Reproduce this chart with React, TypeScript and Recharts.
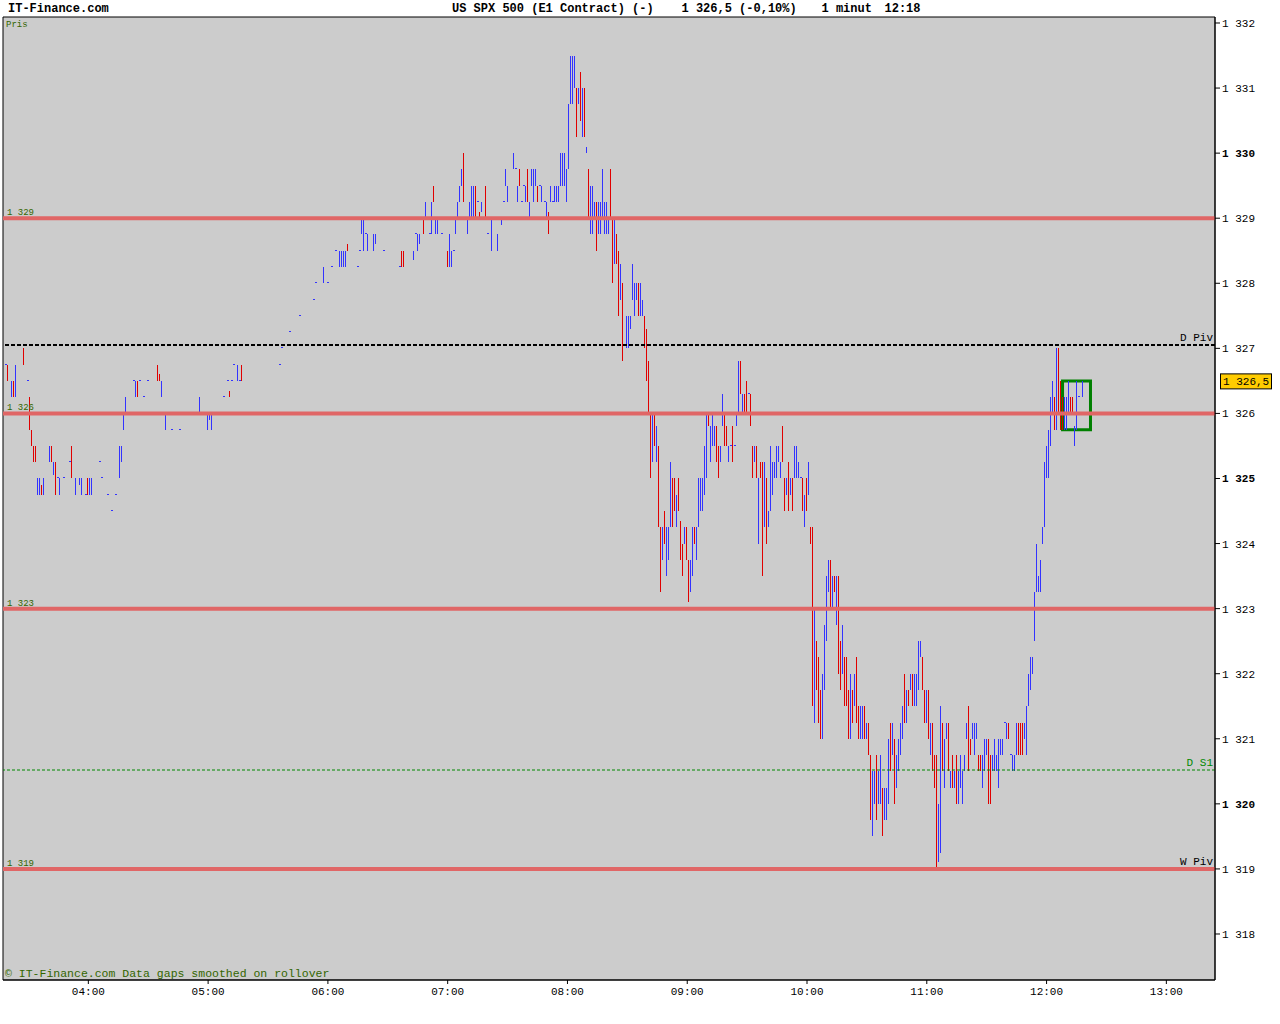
import {
  ComposedChart,
  Bar,
  XAxis,
  YAxis,
  CartesianGrid,
  ReferenceLine,
  ReferenceArea,
} from "recharts";

// ---------------------------------------------------------------------------
// Data: 1-minute bars, [minute of hour, low, high, direction (1 up / -1 down)]
// ---------------------------------------------------------------------------

const h03 = [
  [19, 1326.75, 1326.75, 1], [20, 1326.5, 1326.75, -1], [22, 1326.25, 1326.5, 1],
  [23, 1326.25, 1326.5, -1], [24, 1326.25, 1326.75, 1], [28, 1326.75, 1327, -1],
  [30, 1326.5, 1326.5, 1], [31, 1325.75, 1326.25, -1], [32, 1325.5, 1325.75, -1],
  [33, 1325.25, 1325.5, -1], [34, 1325.25, 1325.5, -1], [35, 1324.75, 1325, 1],
  [36, 1324.75, 1325, 1], [37, 1324.75, 1324.9, -1], [38, 1324.75, 1325, 1],
  [41, 1325.25, 1325.5, 1], [42, 1325.25, 1325.5, -1], [43, 1325.05, 1325.25, 1],
  [44, 1324.75, 1325.25, -1], [45, 1325, 1325, 1], [46, 1324.75, 1325, 1],
  [48, 1325, 1325, 1], [51, 1325.25, 1325.25, 1], [52, 1325, 1325.5, -1],
  [54, 1324.75, 1325, 1], [56, 1324.9, 1325, 1], [57, 1324.75, 1325, 1],
  [59, 1324.75, 1324.75, 1],
];

const h04 = [
  [0, 1324.75, 1325, -1], [1, 1324.75, 1325, 1], [2, 1324.75, 1325, 1],
  [6, 1325.25, 1325.25, 1], [7, 1325, 1325, 1], [10, 1324.75, 1324.75, 1],
  [12, 1324.5, 1324.5, 1], [14, 1324.75, 1324.75, 1], [16, 1325, 1325.5, 1],
  [17, 1325.25, 1325.5, 1], [18, 1325.75, 1326, 1], [19, 1326, 1326.25, 1],
  [23, 1326.5, 1326.5, 1], [24, 1326.25, 1326.5, 1], [25, 1326.25, 1326.5, -1],
  [26, 1326.5, 1326.5, 1], [28, 1326.25, 1326.25, 1], [30, 1326.5, 1326.5, 1],
  [35, 1326.5, 1326.75, -1], [36, 1326.5, 1326.6, -1], [37, 1326.25, 1326.5, 1],
  [38, 1326, 1326, 1], [39, 1325.75, 1326, 1], [42, 1325.75, 1325.75, 1],
  [43, 1326, 1326, 1], [46, 1325.75, 1325.75, 1], [47, 1326, 1326, 1],
  [56, 1326, 1326.25, 1],
];

const h05 = [
  [0, 1325.75, 1326, 1], [1, 1325.9, 1326, 1], [2, 1325.75, 1326, 1],
  [8, 1326.25, 1326.25, 1], [10, 1326.5, 1326.5, 1], [11, 1326.25, 1326.35, -1],
  [12, 1326.5, 1326.5, 1], [13, 1326.75, 1326.75, 1], [15, 1326.5, 1326.75, 1],
  [16, 1326.5, 1326.5, 1], [17, 1326.5, 1326.75, -1], [36, 1326.75, 1326.75, 1],
  [37, 1327, 1327, 1], [41, 1327.25, 1327.25, 1], [46, 1327.5, 1327.5, 1],
  [53, 1327.75, 1327.75, 1], [54, 1328, 1328, 1], [58, 1328, 1328.25, 1],
];

const h06 = [
  [0, 1328, 1328, 1], [2, 1328.25, 1328.25, 1], [4, 1328.5, 1328.5, 1],
  [6, 1328.25, 1328.5, 1], [7, 1328.25, 1328.5, 1], [8, 1328.25, 1328.5, 1],
  [9, 1328.25, 1328.5, 1], [10, 1328.5, 1328.6, -1], [15, 1328.25, 1328.25, 1],
  [16, 1328.5, 1328.5, 1], [17, 1328.75, 1329, 1], [18, 1328.5, 1329, 1],
  [19, 1328.75, 1328.75, 1], [20, 1328.5, 1328.75, 1], [23, 1328.5, 1328.75, 1],
  [24, 1328.6, 1328.75, 1], [28, 1328.5, 1328.5, 1], [36, 1328.25, 1328.25, 1],
  [37, 1328.25, 1328.5, -1], [38, 1328.25, 1328.5, -1], [43, 1328.35, 1328.5, 1],
  [44, 1328.75, 1328.75, 1], [45, 1328.5, 1328.75, 1], [46, 1328.6, 1328.75, 1],
  [48, 1328.75, 1329, -1], [49, 1329, 1329.25, 1], [51, 1328.75, 1328.75, 1],
  [52, 1328.75, 1329.25, 1], [53, 1329.25, 1329.5, -1], [54, 1328.75, 1329, 1],
  [55, 1328.75, 1329, 1], [57, 1328.75, 1328.75, 1],
];

const h07 = [
  [0, 1328.25, 1328.5, -1], [1, 1328.25, 1328.75, 1], [2, 1328.25, 1328.5, 1],
  [3, 1328.5, 1328.5, 1], [4, 1328.75, 1329, 1], [5, 1329, 1329.25, 1],
  [6, 1329.25, 1329.5, 1], [7, 1329.5, 1329.75, 1], [8, 1329.25, 1330, -1],
  [10, 1328.75, 1329, 1], [11, 1329, 1329.25, 1], [12, 1329, 1329.5, 1],
  [13, 1329, 1329.5, 1], [14, 1329, 1329.5, -1], [15, 1329.25, 1329.25, 1],
  [16, 1329, 1329.1, -1], [17, 1329.1, 1329.25, 1], [19, 1329, 1329.5, -1],
  [20, 1328.75, 1328.75, 1], [22, 1328.5, 1329, 1], [25, 1328.5, 1328.75, 1],
  [27, 1328.9, 1329, 1], [28, 1329.25, 1329.25, 1], [29, 1329.5, 1329.75, 1],
  [30, 1329.25, 1329.5, 1], [33, 1329.75, 1330, 1], [34, 1329.75, 1329.75, 1],
  [35, 1329.25, 1329.5, 1], [36, 1329.5, 1329.75, -1], [37, 1329.25, 1329.25, 1],
  [38, 1329.5, 1329.5, 1], [39, 1329.25, 1329.5, 1], [40, 1329.25, 1329.75, -1],
  [41, 1329, 1329.25, 1], [42, 1329.5, 1329.75, 1], [43, 1329.25, 1329.75, 1],
  [44, 1329.5, 1329.75, 1], [45, 1329.25, 1329.5, -1], [46, 1329.5, 1329.5, 1],
  [47, 1329.25, 1329.5, 1], [49, 1329.25, 1329.25, 1], [50, 1329, 1329.25, 1],
  [51, 1328.75, 1329.1, -1], [52, 1329.25, 1329.5, 1], [53, 1329.25, 1329.25, 1],
  [54, 1329.25, 1329.5, 1], [55, 1329.25, 1329.5, 1], [56, 1329.25, 1329.5, 1],
  [57, 1329.5, 1330, 1], [58, 1329.5, 1330, 1], [59, 1329.5, 1330, 1],
];

const h08 = [
  [0, 1329.25, 1329.75, 1], [1, 1329.75, 1330.75, 1], [2, 1330.75, 1331.5, 1],
  [3, 1330.75, 1331.5, 1], [4, 1331, 1331.5, 1], [5, 1330.25, 1331, -1],
  [6, 1330.75, 1331, 1], [7, 1330.5, 1331.25, -1], [8, 1330.25, 1331, 1],
  [9, 1330.25, 1331, -1], [10, 1330, 1330.1, 1], [11, 1329, 1329.75, -1],
  [12, 1328.75, 1329.5, 1], [13, 1328.75, 1329.5, 1], [14, 1329, 1329.25, 1],
  [15, 1328.5, 1329.25, -1], [16, 1328.75, 1329.25, 1], [17, 1328.75, 1329.25, 1],
  [18, 1329, 1329.75, 1], [19, 1328.75, 1329.25, 1], [20, 1328.75, 1329.25, 1],
  [21, 1328.75, 1329, 1], [22, 1329, 1329.75, -1], [23, 1328, 1329, -1],
  [24, 1328.3, 1329, 1], [25, 1328.3, 1328.75, -1], [26, 1327.5, 1328.5, -1],
  [27, 1327.75, 1328.3, 1], [28, 1326.8, 1328, -1], [30, 1327, 1327.5, 1],
  [31, 1327, 1327.5, 1], [32, 1327.3, 1327.5, 1], [33, 1327.75, 1328.3, 1],
  [34, 1327.5, 1328, 1], [35, 1327.75, 1328, 1], [36, 1327.5, 1328, -1],
  [37, 1327.5, 1328, 1], [38, 1327.5, 1327.75, 1], [39, 1327, 1327.5, -1],
  [40, 1326.5, 1327.3, -1], [41, 1326, 1326.8, -1], [42, 1325, 1326, -1],
  [43, 1325.25, 1326, 1], [44, 1325.5, 1326, -1], [45, 1325.25, 1325.8, 1],
  [46, 1324.25, 1325.5, -1], [47, 1323.25, 1324.25, -1], [48, 1323.75, 1324.25, 1],
  [49, 1324, 1324.5, -1], [50, 1323.5, 1324.25, 1], [51, 1323.75, 1324.25, 1],
  [52, 1324.25, 1325.25, 1], [53, 1324.25, 1325, -1], [54, 1324.5, 1325, -1],
  [55, 1324.25, 1324.75, 1], [56, 1324.5, 1325, -1], [57, 1323.75, 1324.35, -1],
  [58, 1323.5, 1324, -1], [59, 1324, 1324.25, 1],
];

const h09 = [
  [0, 1323.75, 1324.25, -1], [1, 1323.1, 1323.75, -1], [2, 1323.25, 1323.75, 1],
  [3, 1323.5, 1324.25, 1], [4, 1324, 1324.25, -1], [5, 1323.75, 1324.25, 1],
  [6, 1324.25, 1325, 1], [7, 1324.5, 1325, 1], [8, 1324.5, 1325, 1],
  [9, 1324.75, 1325.5, 1], [10, 1325, 1326, 1], [11, 1325.8, 1326, -1],
  [12, 1325.25, 1325.8, 1], [13, 1325.5, 1326, 1], [14, 1325.5, 1325.8, 1],
  [15, 1325.25, 1325.8, -1], [16, 1325, 1325.5, -1], [17, 1325.25, 1325.5, 1],
  [18, 1325.8, 1326.3, 1], [19, 1325.5, 1326, -1], [20, 1325.5, 1325.8, -1],
  [21, 1325.25, 1325.5, 1], [22, 1325.5, 1325.5, 1], [23, 1325.25, 1325.8, -1],
  [24, 1325.5, 1325.5, 1], [25, 1325.8, 1326, 1], [26, 1326, 1326.8, 1],
  [27, 1326.3, 1326.8, -1], [28, 1326, 1326.3, 1], [29, 1326, 1326.3, -1],
  [30, 1326, 1326.5, -1], [31, 1326.3, 1326.3, 1], [32, 1325.8, 1326.3, -1],
  [33, 1325, 1325.5, -1], [34, 1325.25, 1325.5, 1], [35, 1325, 1325.5, -1],
  [36, 1324, 1325, 1], [37, 1325, 1325.25, -1], [38, 1323.5, 1325.25, -1],
  [39, 1324.25, 1325.25, 1], [40, 1324, 1325, -1], [41, 1324.25, 1324.5, 1],
  [42, 1324.5, 1325.5, 1], [43, 1324.75, 1325.25, 1], [44, 1325, 1325.25, 1],
  [45, 1325, 1325.5, 1], [46, 1325.25, 1325.5, 1], [47, 1325, 1325.25, 1],
  [48, 1325.25, 1325.8, -1], [49, 1324.5, 1325, -1], [50, 1324.75, 1325, 1],
  [51, 1324.5, 1325.25, -1], [52, 1324.75, 1325, 1], [53, 1324.5, 1325, -1],
  [54, 1325, 1325.5, 1], [55, 1325, 1325.5, 1], [56, 1325, 1325.25, 1],
  [57, 1325, 1325, 1], [58, 1324.5, 1325, -1], [59, 1324.25, 1324.75, 1],
];

const h10 = [
  [0, 1324.5, 1325, -1], [1, 1324.75, 1325.25, 1], [2, 1324, 1324.25, -1],
  [3, 1321.5, 1324.25, -1], [4, 1321.25, 1323, 1], [5, 1321.75, 1322.5, -1],
  [6, 1321.25, 1322.25, -1], [7, 1321, 1321.75, -1], [8, 1321, 1322, 1],
  [9, 1321.75, 1322.75, 1], [10, 1322.5, 1323.5, 1], [11, 1323.25, 1323.75, 1],
  [12, 1323, 1323.75, -1], [13, 1323, 1323.5, 1], [14, 1323.25, 1323.5, -1],
  [15, 1322.75, 1323.5, 1], [16, 1322, 1323.5, -1], [17, 1321.75, 1322.5, -1],
  [18, 1322, 1322.75, 1], [19, 1321.5, 1322.25, -1], [20, 1321.5, 1322.25, -1],
  [21, 1321, 1321.75, -1], [22, 1321, 1322, 1], [23, 1321.25, 1321.75, -1],
  [24, 1321.5, 1322, 1], [25, 1321.25, 1322.25, -1], [26, 1321, 1321.5, -1],
  [27, 1321, 1321.5, 1], [28, 1321, 1321.5, 1], [29, 1321, 1321.5, -1],
  [30, 1321, 1321.25, 1], [31, 1320.75, 1321.25, -1], [32, 1319.75, 1320.75, -1],
  [33, 1319.5, 1320.5, 1], [34, 1320, 1320.5, 1], [35, 1319.75, 1320.75, -1],
  [36, 1320, 1320.5, 1], [37, 1320, 1320.75, 1], [38, 1319.5, 1320.25, -1],
  [39, 1319.75, 1320.25, 1], [40, 1319.75, 1320.25, 1], [41, 1320, 1321, 1],
  [42, 1320.5, 1321.25, -1], [43, 1320.75, 1321.25, 1], [44, 1320, 1321, -1],
  [45, 1320.25, 1320.75, 1], [46, 1320.5, 1321, 1], [47, 1320.75, 1321.25, 1],
  [48, 1321, 1321.5, 1], [49, 1321.25, 1322, -1], [50, 1321.25, 1321.75, 1],
  [51, 1321.5, 1321.75, -1], [52, 1321.75, 1322, 1], [53, 1321.5, 1322, -1],
  [54, 1321.5, 1322, 1], [55, 1321.5, 1322, 1], [56, 1321.75, 1322.5, 1],
  [57, 1322.25, 1322.5, 1], [58, 1321.75, 1322.25, -1], [59, 1321.25, 1321.75, -1],
];

const h11 = [
  [0, 1321.25, 1321.75, 1], [1, 1321, 1321.75, -1], [2, 1320.75, 1321.25, 1],
  [3, 1320.5, 1321.25, -1], [4, 1320.25, 1320.75, -1], [5, 1319, 1320.75, -1],
  [6, 1319.1, 1320, 1], [7, 1319.25, 1321.5, 1], [8, 1320.5, 1321.25, -1],
  [9, 1320.25, 1321, 1], [10, 1321, 1321.25, 1], [11, 1320.5, 1321.25, -1],
  [12, 1320.25, 1320.5, 1], [13, 1320.25, 1320.75, -1], [14, 1320.25, 1320.5, 1],
  [15, 1320, 1320.75, -1], [16, 1320, 1320.5, 1], [17, 1320.25, 1320.75, 1],
  [18, 1320, 1320.5, 1], [19, 1320.5, 1320.75, 1], [20, 1321, 1321.25, 1],
  [21, 1320.5, 1321.5, -1], [22, 1320.75, 1321, -1], [23, 1321, 1321.25, 1],
  [24, 1320.75, 1321.25, 1], [25, 1321, 1321.25, 1], [26, 1320.5, 1320.75, -1],
  [27, 1320.5, 1320.75, -1], [28, 1320.25, 1320.75, 1], [29, 1320.5, 1321, 1],
  [30, 1320.75, 1321, 1], [31, 1320, 1321, -1], [32, 1320, 1320.75, -1],
  [33, 1320.5, 1320.75, 1], [34, 1320.5, 1321, 1], [35, 1320.5, 1320.75, 1],
  [36, 1320.25, 1321, 1], [37, 1320.75, 1321, 1], [38, 1320.75, 1321, 1],
  [39, 1321.25, 1321.25, 1], [40, 1321, 1321.25, 1], [41, 1321, 1321.25, -1],
  [42, 1320.75, 1320.75, 1], [43, 1320.5, 1320.75, 1], [44, 1320.5, 1320.75, 1],
  [45, 1320.75, 1321.25, 1], [46, 1320.75, 1321.25, -1], [47, 1320.75, 1321.25, -1],
  [48, 1320.75, 1321.25, -1], [49, 1321, 1321.25, 1], [50, 1320.75, 1321.5, 1],
  [51, 1321.5, 1322, 1], [52, 1321.75, 1322.25, 1], [53, 1322, 1322.25, 1],
  [54, 1322.5, 1323.25, 1], [55, 1323.25, 1324, 1], [56, 1323.25, 1323.5, 1],
  [57, 1323.25, 1323.75, 1], [58, 1324, 1324.25, 1], [59, 1324.25, 1325.25, 1],
];

const h12 = [
  [0, 1325, 1325.5, 1], [1, 1325, 1325.75, 1], [2, 1325.5, 1326.25, 1],
  [3, 1326, 1326.5, 1], [4, 1325.75, 1326.25, -1], [5, 1325.75, 1327, 1],
  [6, 1326, 1327, -1], [7, 1325.75, 1326.5, -1], [8, 1325.75, 1326.25, -1],
  [9, 1325.75, 1326.25, 1], [10, 1325.75, 1326.25, 1], [11, 1326, 1326.5, 1],
  [12, 1326, 1326.25, -1], [13, 1326, 1326.25, -1], [14, 1325.5, 1325.8, 1],
  [15, 1325.75, 1326.5, 1], [16, 1326.25, 1326.25, 1], [17, 1326, 1326, 1],
  [18, 1326.25, 1326.5, 1],
];

const HOURS: [number, number[][]][] = [
  [3, h03], [4, h04], [5, h05], [6, h06], [7, h07],
  [8, h08], [9, h09], [10, h10], [11, h11], [12, h12],
];

// Support / resistance levels drawn as thick red lines
const LEVELS = [1329, 1326, 1323, 1319];
const D_PIV = 1327.05;
const D_S1 = 1320.52;
const W_PIV = 1319;
const LAST_PRICE = 1326.5;
// highlight box around the latest bars [minute from, minute to, low, high]
const BOX = [728, 742, 1325.75, 1326.5];

const Y_TICKS = [1318, 1319, 1320, 1321, 1322, 1323, 1324, 1325, 1326, 1327, 1328, 1329, 1330, 1331, 1332];
const X_TICKS = [240, 300, 360, 420, 480, 540, 600, 660, 720, 780];

// ---------------------------------------------------------------------------
// Constants
// ---------------------------------------------------------------------------

const X_MIN = 197.25;
const X_MAX = 804.37;
const Y_MIN = 1317.293;
const Y_MAX = 1332.092;

const BLUE = "#3333FF";
const RED = "#E00000";
const LEVEL_COLOR = "#E06666";
const LABEL_GREEN = "#336600";
const FONT = "'Liberation Mono', 'DejaVu Sans Mono', monospace";

const bars = HOURS.flatMap(([h, rows]) =>
  rows.map(([mm, lo, hi, dir]) => ({ m: h * 60 + mm, lo, hi, dir })),
);

// ---------------------------------------------------------------------------
// Helpers
// ---------------------------------------------------------------------------

function formatPrice(v: number): string {
  return `${Math.floor(v / 1000)} ${String(v % 1000).padStart(3, "0")}`;
}

function formatTime(m: number): string {
  const h = Math.floor(m / 60);
  const mm = m % 60;
  return `${String(h).padStart(2, "0")}:${String(mm).padStart(2, "0")}`;
}

function PriceBar(props: any) {
  const { x, y, width, height, payload } = props;
  const cx = x + width / 2;
  const color = payload.dir > 0 ? BLUE : RED;
  if (payload.lo === payload.hi) {
    const cy = y + height / 2;
    return (
      <rect x={cx - 0.5} y={cy - 0.5} width={2} height={1} fill={color} shapeRendering="crispEdges" />
    );
  }
  const top = Math.min(y, y + height);
  return (
    <rect x={cx - 0.5} y={top} width={1} height={Math.abs(height)} fill={color} shapeRendering="crispEdges" />
  );
}

function PriceTick(props: any) {
  const { x, y, payload } = props;
  const v = payload.value as number;
  return (
    <text
      x={x}
      y={y + 4}
      fontFamily={FONT}
      fontSize={11}
      fontWeight={v % 5 === 0 ? "bold" : "normal"}
      fill="#000"
    >
      {formatPrice(v)}
    </text>
  );
}

function TimeTick(props: any) {
  const { x, y, payload } = props;
  return (
    <text x={x} y={y + 9} textAnchor="middle" fontFamily={FONT} fontSize={11} fill="#000">
      {formatTime(payload.value)}
    </text>
  );
}

const leftLabel = (text: string) => (props: any) => {
  const vb = props.viewBox;
  return (
    <text x={vb.x + 4} y={vb.y - 3} fontFamily={FONT} fontSize={9} fill={LABEL_GREEN}>
      {text}
    </text>
  );
};

const rightLabel = (text: string, color: string) => (props: any) => {
  const vb = props.viewBox;
  return (
    <text
      x={vb.x + vb.width - 2}
      y={vb.y - 4}
      textAnchor="end"
      fontFamily={FONT}
      fontSize={11}
      fill={color}
    >
      {text}
    </text>
  );
};

const priceTag = (props: any) => {
  const vb = props.viewBox;
  const x0 = vb.x + vb.width + 5;
  return (
    <g>
      <rect x={x0 + 0.5} y={vb.y - 7} width={51} height={15} fill="#FFCC00" stroke="#000" />
      <text x={x0 + 3} y={vb.y + 4} fontFamily={FONT} fontSize={11} fill="#000">
        1 326,5
      </text>
    </g>
  );
};

// ---------------------------------------------------------------------------
// Component
// ---------------------------------------------------------------------------

export default function App() {
  return (
    <div style={{ position: "absolute", left: 0, top: 0, width: 1280, height: 1024, background: "#fff" }}>
      <ComposedChart
        width={1280}
        height={1024}
        data={bars}
        margin={{ top: 17, right: 0, bottom: 0, left: 3 }}
      >
        <CartesianGrid horizontal={false} vertical={false} fill="#CCCCCC" />
        <XAxis
          dataKey="m"
          type="number"
          domain={[X_MIN, X_MAX]}
          allowDataOverflow
          ticks={X_TICKS}
          height={44}
          tickSize={4}
          tickMargin={2}
          tick={<TimeTick />}
          stroke="#000"
          tickLine={{ stroke: "#000" }}
          axisLine={{ stroke: "#000" }}
        />
        <YAxis
          orientation="right"
          type="number"
          domain={[Y_MIN, Y_MAX]}
          allowDataOverflow
          ticks={Y_TICKS}
          width={65}
          tickSize={5}
          tickMargin={2}
          tick={<PriceTick />}
          tickLine={{ stroke: "#000" }}
          axisLine={{ stroke: "#000" }}
        />

        <Bar
          dataKey={(d: any) => [d.lo, d.hi]}
          barSize={1}
          minPointSize={1}
          shape={<PriceBar />}
          isAnimationActive={false}
        />

        {LEVELS.map((lv) => (
          <ReferenceLine
            key={lv}
            y={lv}
            stroke={LEVEL_COLOR}
            strokeWidth={4}
            label={{ content: leftLabel(formatPrice(lv)) }}
          />
        ))}
        <ReferenceLine
          y={D_PIV}
          stroke="#000"
          strokeWidth={2}
          strokeDasharray="4 2"
          label={{ content: rightLabel("D Piv", "#000") }}
        />
        <ReferenceLine
          y={D_S1}
          stroke="#008800"
          strokeWidth={1}
          strokeDasharray="3 2"
          label={{ content: rightLabel("D S1", "#008800") }}
        />
        <ReferenceLine
          y={W_PIV}
          stroke="none"
          label={{ content: rightLabel("W Piv", "#000") }}
        />
        <ReferenceLine y={LAST_PRICE} stroke="none" label={{ content: priceTag }} />

        <ReferenceArea
          x1={BOX[0]}
          x2={BOX[1]}
          y1={BOX[2]}
          y2={BOX[3]}
          fill="none"
          fillOpacity={0}
          stroke="#008000"
          strokeWidth={3}
        />
        <ReferenceArea
          x1={X_MIN}
          x2={X_MAX}
          y1={Y_MIN}
          y2={Y_MAX}
          fill="none"
          fillOpacity={0}
          stroke="#000"
          strokeWidth={1}
        />
      </ComposedChart>

      <svg
        width={1280}
        height={1024}
        style={{ position: "absolute", left: 0, top: 0, pointerEvents: "none" }}
      >
        <g fontFamily={FONT} fontSize={12} fontWeight="bold" fill="#000">
          <text x={8} y={12}>IT-Finance.com</text>
          <text x={452} y={12}>US SPX 500 (E1 Contract) (-)</text>
          <text x={681.5} y={12}>1 326,5 (-0,10%)</text>
          <text x={821.5} y={12}>1 minut</text>
          <text x={884.5} y={12}>12:18</text>
        </g>
        <text x={6} y={27} fontFamily={FONT} fontSize={9} fill={LABEL_GREEN}>
          Pris
        </text>
        <text x={5} y={977} fontFamily={FONT} fontSize={11.5} fill={LABEL_GREEN}>
          © IT-Finance.com Data gaps smoothed on rollover
        </text>
      </svg>
    </div>
  );
}
